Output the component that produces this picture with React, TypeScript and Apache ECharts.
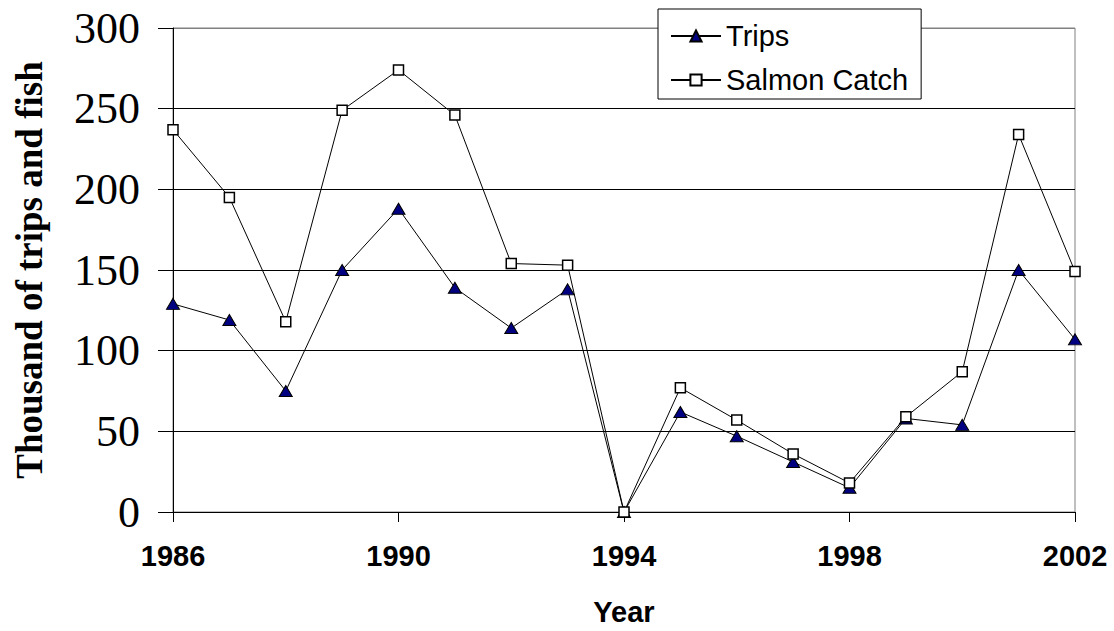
import React, { useEffect, useRef } from "react";
import * as echarts from "echarts";

const years = [1986, 1987, 1988, 1989, 1990, 1991, 1992, 1993, 1994, 1995, 1996, 1997, 1998, 1999, 2000, 2001, 2002];
const trips = [129, 119, 75, 150, 188, 139, 114, 138, 0, 62, 47, 31, 15, 58, 54, 150, 107];
const salmonCatch = [237, 195, 118, 249, 274, 246, 154, 153, 0, 77, 57, 36, 18, 59, 87, 234, 149];
const seriesNames = ["Trips", "Salmon Catch"];
const yAxisTitle = "Thousand of trips and fish";
const xAxisTitle = "Year";

const SANS = "'Liberation Sans', Arial, sans-serif";
const SERIF = "'Liberation Serif', 'Times New Roman', serif";

export default function App() {
  const ref = useRef<HTMLDivElement>(null);

  useEffect(() => {
    if (!ref.current) return;
    const chart = echarts.init(ref.current, undefined, { renderer: "svg" });
    const tripsData = years.map((y, i) => [y, trips[i]]);
    const salmonData = years.map((y, i) => [y, salmonCatch[i]]);

    chart.setOption({
      animation: false,
      backgroundColor: "#ffffff",
      grid: {
        left: 173,
        right: 39,
        top: 28,
        bottom: 115,
        show: true,
        borderColor: "#808080",
        borderWidth: 1,
        backgroundColor: "#ffffff",
      },
      legend: {
        orient: "vertical",
        left: 658,
        top: 9,
        backgroundColor: "#ffffff",
        borderColor: "#000000",
        borderWidth: 1,
        borderRadius: 0,
        padding: [12, 13, 4, 12],
        itemWidth: 50,
        itemHeight: 14,
        itemGap: 14,
        data: seriesNames,
        textStyle: {
          fontFamily: SANS,
          fontSize: 29,
          color: "#000000",
          lineHeight: 30,
        },
      },
      xAxis: {
        type: "value",
        min: 1986,
        max: 2002,
        interval: 4,
        name: xAxisTitle,
        nameLocation: "middle",
        nameGap: 85,
        nameTextStyle: {
          fontFamily: SANS,
          fontSize: 29,
          fontWeight: "bold",
          color: "#000000",
        },
        axisLine: { show: true, lineStyle: { color: "#000000", width: 1 } },
        axisTick: { show: true, length: 10, lineStyle: { color: "#000000" } },
        axisLabel: {
          fontFamily: SANS,
          fontSize: 29,
          fontWeight: "bold",
          color: "#000000",
          margin: 29,
          formatter: (v: number) => String(v),
        },
        splitLine: { show: false },
      },
      yAxis: {
        type: "value",
        min: 0,
        max: 300,
        interval: 50,
        name: yAxisTitle,
        nameLocation: "middle",
        nameGap: 125,
        nameTextStyle: {
          fontFamily: SERIF,
          fontSize: 37,
          fontWeight: "bold",
          color: "#000000",
        },
        axisLine: { show: true, lineStyle: { color: "#000000", width: 1 } },
        axisTick: { show: true, length: 15, lineStyle: { color: "#000000" } },
        axisLabel: {
          fontFamily: SERIF,
          fontSize: 44,
          color: "#000000",
          margin: 33,
        },
        splitLine: {
          show: true,
          lineStyle: {
            color: ["#000000", "#000000", "#000000", "#000000", "#000000", "#000000", "#808080"],
            width: 1,
          },
        },
      },
      series: [
        {
          name: seriesNames[0],
          type: "line",
          data: tripsData,
          symbol: "triangle",
          symbolSize: [13, 11],
          showAllSymbol: true,
          lineStyle: { color: "#000000", width: 1 },
          itemStyle: { color: "#000080", borderColor: "#000000", borderWidth: 1 },
          z: 2,
        },
        {
          name: seriesNames[1],
          type: "line",
          data: salmonData,
          symbol: "rect",
          symbolSize: 10,
          showAllSymbol: true,
          lineStyle: { color: "#000000", width: 1 },
          itemStyle: { color: "#ffffff", borderColor: "#000000", borderWidth: 1.5 },
          z: 3,
        },
      ],
    });

    return () => {
      chart.dispose();
    };
  }, []);

  return (
    <div
      ref={ref}
      style={{ position: "fixed", left: 0, top: 0, width: 1114, height: 631 }}
    />
  );
}
